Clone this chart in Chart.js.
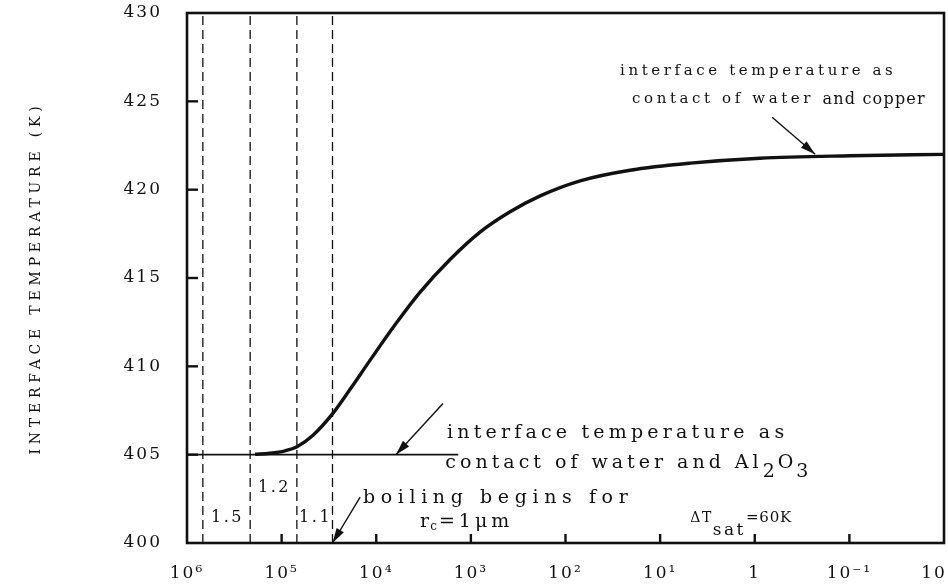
<!DOCTYPE html>
<html>
<head>
<meta charset="utf-8">
<script src="https://cdn.jsdelivr.net/npm/chart.js@4.4.1/dist/chart.umd.min.js"></script>
<style>
  html, body { margin: 0; padding: 0; background: #fff; }
  #wrap { width: 948px; height: 586px; }
</style>
</head>
<body>
<div id="wrap"><canvas id="c" width="948" height="586"></canvas></div>
<script>
// Decade ticks of the (reversed) logarithmic x axis
const decadeValues = [1e6, 1e5, 1e4, 1e3, 1e2, 1e1, 1, 1e-1, 1e-2];
const decadeLabels = ['10⁶', '10⁵', '10⁴', '10³', '10²', '10¹', '1', '10⁻¹', '10⁻²'];
const tempTicks = [400, 405, 410, 415, 420, 425, 430];

// Interface temperature, water in contact with copper
const copperX = [1.91e5, 1.33e5, 9.2e4, 6.88e4, 4.66e4, 2.86e4, 1.89e4, 1.16e4, 6.33e3, 3.44e3, 1.66e3, 800, 385, 185, 70, 20.8, 4.8, 0.88, 0.098, 0.01];
const copperT = [405.02, 405.08, 405.22, 405.45, 406.1, 407.35, 408.7, 410.35, 412.35, 414.2, 416.05, 417.6, 418.75, 419.65, 420.5, 421.1, 421.5, 421.78, 421.92, 422.0];

// Interface temperature, water in contact with Al2O3
const aluminaX = [1e6, 1.36e3];
const aluminaT = [405, 405];

// Boundaries between the ratio regions and their labels
const boundaryX = [6.8e5, 2.15e5, 6.9e4, 2.9e4];
const ratioLabels = ['1.5', '1.2', '1.1'];
const ratioT = [401.4, 403.1, 401.4];

const INK = '#111';
const SERIF = '"DejaVu Serif", serif';

const datasets = [
  {
    label: 'copper',
    data: copperX.map((x, i) => ({ x, y: copperT[i] })),
    borderColor: INK, borderWidth: 3.4, pointRadius: 0,
    cubicInterpolationMode: 'monotone', fill: false
  },
  {
    label: 'Al2O3',
    data: aluminaX.map((x, i) => ({ x, y: aluminaT[i] })),
    borderColor: INK, borderWidth: 1.6, pointRadius: 0, fill: false
  }
];
boundaryX.forEach((x, i) => {
  datasets.push({
    label: 'boundary ' + i,
    data: [{ x, y: 400 }, { x, y: 430 }],
    borderColor: INK, borderWidth: 1.3, borderDash: [9, 5],
    pointRadius: 0, fill: false
  });
});

// Text notes and arrows, anchored in data units
const notes = [
  { x: 26.5, y: 426.7, runs: [{ t: 'interface temperature as', ls: 3.6 }] },
  { x: 19.8, y: 425.1, runs: [{ t: 'contact of water ', ls: 3.6 }, { t: 'and copper', ls: 1.2, size: 16 }] },
  { x: 1.79e3, y: 406.2, runs: [{ t: 'interface temperature as', size: 19, ls: 4.2 }] },
  { x: 1.86e3, y: 404.5, runs: [{ t: 'contact of water and Al', size: 19, ls: 4.0 }, { t: '2', size: 19, dy: 9, ls: 3 }, { t: 'O', size: 19, ls: 3 }, { t: '3', size: 19, dy: 9 }] },
  { x: 1.38e4, y: 402.55, runs: [{ t: 'boiling begins for', size: 19, ls: 5.6 }] },
  { x: 3.44e3, y: 401.2, runs: [{ t: 'r', size: 19, ls: 1 }, { t: 'c', dy: 5, size: 12, ls: 2 }, { t: '=1μm', size: 19, ls: 4 }] },
  { x: 4.8, y: 401.4, runs: [{ t: 'ΔT', size: 14, ls: 1.5 }, { t: 'sat', size: 17, dy: 12, ls: 2.5 }, { t: '=60K', size: 15, ls: 0.8 }] }
];
const arrows = [
  { from: [0.655, 424.1], to: [0.23, 422.0] },
  { from: [1.97e3, 407.9], to: [6.2e3, 405.0] },
  { from: [1.48e4, 402.6], to: [2.9e4, 400.0] }
];

function drawRuns(ctx, x, y, runs) {
  let cx = x;
  runs.forEach(r => {
    ctx.font = (r.size || 15) + 'px ' + SERIF;
    ctx.letterSpacing = (r.ls !== undefined ? r.ls : 2.6) + 'px';
    ctx.fillText(r.t, cx, y + (r.dy || 0));
    cx += ctx.measureText(r.t).width;
  });
}

function drawArrow(ctx, x1, y1, x2, y2) {
  ctx.beginPath();
  ctx.moveTo(x1, y1);
  ctx.lineTo(x2, y2);
  ctx.stroke();
  const a = Math.atan2(y2 - y1, x2 - x1);
  const len = 15, w = 4.2;
  ctx.beginPath();
  ctx.moveTo(x2, y2);
  ctx.lineTo(x2 - len * Math.cos(a) + w * Math.sin(a), y2 - len * Math.sin(a) - w * Math.cos(a));
  ctx.lineTo(x2 - len * Math.cos(a) - w * Math.sin(a), y2 - len * Math.sin(a) + w * Math.cos(a));
  ctx.closePath();
  ctx.fill();
}

const decorations = {
  id: 'decorations',
  beforeDraw(chart) {
    chart.ctx.letterSpacing = '2px';
  },
  afterDraw(chart) {
    const ctx = chart.ctx;
    const xs = chart.scales.x, ys = chart.scales.y;
    const a = chart.chartArea;
    ctx.save();
    ctx.strokeStyle = INK;
    ctx.fillStyle = INK;

    // inward tick marks
    ctx.lineWidth = 2.4;
    tempTicks.slice(1, -1).forEach(t => {
      const y = ys.getPixelForValue(t);
      ctx.beginPath(); ctx.moveTo(a.left, y); ctx.lineTo(a.left + 11, y); ctx.stroke();
    });
    decadeValues.slice(1, -1).forEach(v => {
      const x = xs.getPixelForValue(v);
      ctx.beginPath(); ctx.moveTo(x, a.bottom); ctx.lineTo(x, a.bottom - 9); ctx.stroke();
    });

    // frame
    ctx.lineWidth = 2.6;
    ctx.strokeRect(a.left, a.top, a.right - a.left, a.bottom - a.top);

    // notes
    ctx.textAlign = 'left';
    ctx.textBaseline = 'middle';
    notes.forEach(n => drawRuns(ctx, xs.getPixelForValue(n.x), ys.getPixelForValue(n.y), n.runs));

    // ratio labels between the dashed boundaries
    ctx.textAlign = 'center';
    ctx.font = '16px ' + SERIF;
    ctx.letterSpacing = '2.6px';
    ratioLabels.forEach((lab, i) => {
      const x = Math.sqrt(boundaryX[i] * boundaryX[i + 1]);
      ctx.fillText(lab, xs.getPixelForValue(x) + 1, ys.getPixelForValue(ratioT[i]));
    });

    // arrows
    ctx.lineWidth = 1.4;
    arrows.forEach(r => drawArrow(ctx,
      xs.getPixelForValue(r.from[0]), ys.getPixelForValue(r.from[1]),
      xs.getPixelForValue(r.to[0]), ys.getPixelForValue(r.to[1])));

    // y axis title
    ctx.translate(36, (a.top + a.bottom) / 2);
    ctx.rotate(-Math.PI / 2);
    ctx.textAlign = 'center';
    ctx.font = '14px ' + SERIF;
    ctx.letterSpacing = '4.8px';
    ctx.fillText('INTERFACE TEMPERATURE (K)', 0, 0);
    ctx.restore();
    ctx.letterSpacing = '0px';
  }
};

new Chart(document.getElementById('c'), {
  type: 'line',
  data: { datasets },
  options: {
    responsive: false,
    devicePixelRatio: 1,
    animation: false,
    events: [],
    layout: { padding: { top: 13, right: 4, left: 0, bottom: 0 } },
    plugins: { legend: { display: false }, tooltip: { enabled: false } },
    scales: {
      x: {
        type: 'logarithmic',
        reverse: true,
        min: 1e-2,
        max: 1e6,
        afterBuildTicks(s) { s.ticks = decadeValues.map(v => ({ value: v })); },
        afterFit(s) { s.height = 43; s.paddingLeft = 0; s.paddingRight = 0; },
        grid: { display: false, drawTicks: false },
        border: { display: false },
        ticks: {
          autoSkip: false, maxRotation: 0, padding: 20, color: INK,
          font: { family: SERIF, size: 17 },
          callback(v) {
            const i = decadeValues.findIndex(d => Math.abs(Math.log10(d) - Math.log10(v)) < 1e-6);
            return i >= 0 ? decadeLabels[i] : '';
          }
        }
      },
      y: {
        type: 'linear',
        min: 400,
        max: 430,
        afterBuildTicks(s) { s.ticks = tempTicks.map(v => ({ value: v })); },
        afterFit(s) { s.width = 187; s.paddingTop = 0; s.paddingBottom = 0; },
        grid: { display: false, drawTicks: false },
        border: { display: false },
        ticks: { padding: 25, color: INK, font: { family: SERIF, size: 17 } }
      }
    }
  },
  plugins: [decorations]
});
</script>
</body>
</html>
